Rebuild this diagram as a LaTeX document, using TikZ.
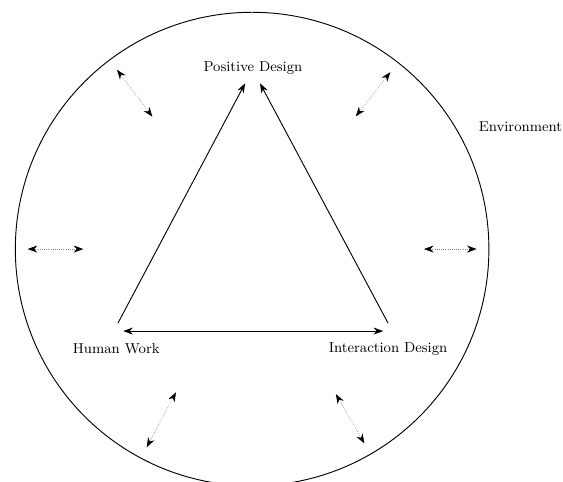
\documentclass[tikz,border=0pt]{standalone}
\usetikzlibrary{positioning, arrows.meta}

\begin{document}
\begin{tikzpicture}[
    edge/.style={-{Stealth[length=2.2mm, width=1.6mm]}, semithick},
    twoway/.style={{Stealth[length=2.2mm, width=1.6mm]}-{Stealth[length=2.2mm, width=1.6mm]}, semithick},
    influence/.style={{Stealth[length=2.2mm, width=1.6mm, color=black]}-{Stealth[length=2.2mm, width=1.6mm, color=black]}, densely dotted, gray, thin},
    label/.style={font=\fontsize{9.3}{11}\selectfont}
]
\useasboundingbox (-5.75,-5.31) rectangle (7.09,5.68);

% Environment
\draw[semithick] (0,0) circle (5.40);
\node[label] (env) at (6.12, 2.80) {Environment};

% Corners of the triangle
\node[label] (pd) at (0.02, 4.13) {Positive Design};
\node[label] (hw) at (-3.10, -2.28) {Human Work};
\node[label] (id) at (3.10, -2.28) {Interaction Design};

\coordinate (hwtop) at (-3.06, -1.69);
\coordinate (idtop) at (3.10, -1.69);
\coordinate (pdleft) at (-0.16, 3.78);
\coordinate (pdright) at (0.18, 3.78);
\coordinate (hwright) at (-2.94, -1.87);
\coordinate (idleft) at (2.99, -1.87);

\draw[edge] (hwtop) -- (pdleft);
\draw[edge] (idtop) -- (pdright);
\draw[twoway] (hwright) -- (idleft);

% Exchange with the environment
\foreach \a/\r in {0/3.92, 52/3.84, 127/3.78, 180/3.85, 242/3.70, 300/3.82} {
    \coordinate (in\a) at (\a:\r);
    \coordinate (out\a) at (\a:5.12);
    \draw[influence] (in\a) -- (out\a);
}

\end{tikzpicture}
\end{document}
